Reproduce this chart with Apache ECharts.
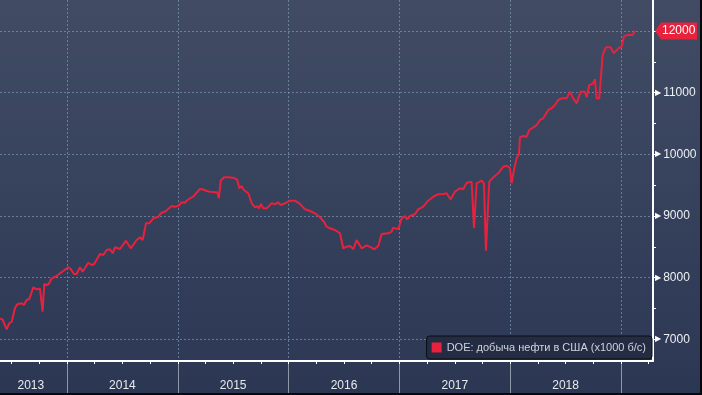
<!DOCTYPE html>
<html><head><meta charset="utf-8">
<script src="https://cdn.jsdelivr.net/npm/echarts@6/dist/echarts.min.js"></script>
<style>
html,body{margin:0;padding:0;background:#000;}
#wrap{position:relative;width:702px;height:395px;}
#chart{width:702px;height:395px;}
#frame{position:absolute;left:0;top:0;width:702px;height:395px;box-sizing:border-box;border-right:2px solid #06080c;border-bottom:2px solid #06080c;pointer-events:none;}
</style>
</head><body><div id="wrap"><div id="chart"></div><div id="frame"></div></div>
<script>
// ---- data ----
const seriesName = 'DOE: добыча нефти в США (x1000 б/с)';
// decimal years
const dates = [
  2013.395, 2013.419, 2013.455, 2013.479, 2013.501, 2013.530, 2013.551, 2013.591, 2013.612, 2013.636,
  2013.659, 2013.696, 2013.726, 2013.756, 2013.768, 2013.780, 2013.795, 2013.816, 2013.835, 2013.862,
  2013.907, 2013.937, 2013.966, 2014.011, 2014.033, 2014.063, 2014.087, 2014.117, 2014.141, 2014.192,
  2014.223, 2014.246, 2014.297, 2014.327, 2014.358, 2014.388, 2014.412, 2014.433, 2014.478, 2014.532,
  2014.575, 2014.629, 2014.659, 2014.683, 2014.713, 2014.742, 2014.779, 2014.824, 2014.854, 2014.884,
  2014.945, 2014.974, 2015.004, 2015.035, 2015.065, 2015.080, 2015.110, 2015.139, 2015.170, 2015.200,
  2015.224, 2015.260, 2015.290, 2015.335, 2015.356, 2015.371, 2015.387, 2015.417, 2015.455, 2015.501,
  2015.537, 2015.555, 2015.576, 2015.597, 2015.636, 2015.667, 2015.697, 2015.717, 2015.733, 2015.751,
  2015.771, 2015.802, 2015.847, 2015.877, 2015.907, 2015.928, 2015.967, 2016.012, 2016.057, 2016.096,
  2016.148, 2016.193, 2016.238, 2016.283, 2016.319, 2016.344, 2016.373, 2016.418, 2016.464, 2016.493,
  2016.524, 2016.554, 2016.584, 2016.614, 2016.659, 2016.704, 2016.749, 2016.773, 2016.809, 2016.840,
  2016.899, 2016.930, 2016.944, 2016.990, 2017.020, 2017.050, 2017.071, 2017.095, 2017.140, 2017.170,
  2017.215, 2017.260, 2017.306, 2017.351, 2017.396, 2017.426, 2017.462, 2017.501, 2017.546, 2017.576,
  2017.607, 2017.652, 2017.673, 2017.697, 2017.742, 2017.763, 2017.781, 2017.811, 2017.847, 2017.892,
  2017.937, 2017.968, 2017.998, 2018.013, 2018.034, 2018.058, 2018.079, 2018.088, 2018.118, 2018.148,
  2018.172, 2018.208, 2018.239, 2018.268, 2018.298, 2018.343, 2018.374, 2018.404, 2018.434, 2018.464,
  2018.510, 2018.539, 2018.569, 2018.600, 2018.636, 2018.675, 2018.690, 2018.714, 2018.744, 2018.765,
  2018.780, 2018.804, 2018.834, 2018.864, 2018.906, 2018.936, 2018.954, 2018.975, 2019.006, 2019.027,
  2019.066, 2019.105, 2019.126
];
const production = [
  7340, 7320, 7160, 7260, 7285, 7503, 7568, 7584, 7556, 7637,
  7649, 7843, 7811, 7821, 7811, 7448, 7897, 7881, 7897, 7989,
  8027, 8070, 8108, 8168, 8140, 8059, 8059, 8168, 8096, 8242,
  8205, 8221, 8383, 8367, 8448, 8460, 8395, 8492, 8464, 8599,
  8476, 8610, 8654, 8610, 8881, 8881, 8962, 8988, 9053, 9069,
  9162, 9150, 9162, 9222, 9215, 9248, 9287, 9313, 9377, 9438,
  9433, 9405, 9394, 9384, 9384, 9287, 9572, 9627, 9627, 9621,
  9584, 9449, 9486, 9421, 9368, 9206, 9141, 9162, 9124, 9194,
  9124, 9124, 9206, 9189, 9222, 9178, 9206, 9248, 9248, 9206,
  9108, 9081, 9043, 8979, 8907, 8826, 8800, 8773, 8719, 8476,
  8502, 8513, 8464, 8610, 8476, 8524, 8486, 8460, 8513, 8708,
  8719, 8745, 8810, 8784, 8962, 9000, 8946, 9000, 9027, 9108,
  9150, 9248, 9313, 9352, 9356, 9368, 9270, 9394, 9449, 9433,
  9540, 9556, 8800, 9530, 9572, 9530, 8437, 9556, 9627, 9692,
  9799, 9815, 9773, 9530, 9746, 9935, 10005, 10276, 10297, 10286,
  10394, 10438, 10476, 10557, 10584, 10719, 10746, 10800, 10881, 10908,
  10908, 11016, 10908, 10827, 11016, 11016, 10925, 11124, 11140, 11217,
  10908, 10908, 11611, 11736, 11736, 11638, 11627, 11719, 11745, 11919,
  11935, 11935, 12005
];
const firstYearLabel = ['2013'];
const yearLabels = ['2014', '2015', '2016', '2017', '2018'];
const yearLineFirst = 2014, yearLineLast = 2019;
const quarterFirst = 2013.5, quarterLast = 2019.25, quarterStep = 0.25;
const yTickMin = 7000, yTickMax = 12000, yTickStep = 1000, yMinorStep = 500;
const highlightValue = 12000;

// ---- layout constants (pixels) ----
const W = 702, H = 395;
const PLOT_RIGHT = 653, AXIS_Y = 361;
const X_YEAR0 = -43.8, YEAR0 = 2013, PX_YEAR = 110.8;
const Y_TOP_TICK = 31, PX_PER_1000 = 61.66;
const xOf = yr => X_YEAR0 + (yr - YEAR0) * PX_YEAR;
const yearAt = px => YEAR0 + (px - X_YEAR0) / PX_YEAR;
const valAt = py => yTickMax - (py - Y_TOP_TICK) / PX_PER_1000 * 1000;

const FONT = "'Liberation Sans', Arial, sans-serif";
const RED = '#e8213d';
const GRID_LINE = { color: 'rgba(135,165,195,0.6)', width: 1, type: [2, 2] };

function makeTag() {
  const c = document.createElement('canvas');
  c.width = 42; c.height = 17;
  const g = c.getContext('2d');
  g.fillStyle = RED;
  g.beginPath();
  g.moveTo(0, 8.5); g.lineTo(6, 0); g.lineTo(42, 0); g.lineTo(42, 17); g.lineTo(6, 17);
  g.closePath(); g.fill();
  return c;
}
const tagCanvas = makeTag();

const plotBottom = H - AXIS_Y;
const grids = [
  { left: 0, right: W - PLOT_RIGHT, top: 0, bottom: plotBottom },                                  // 0 data
  { left: xOf(yearLineFirst), right: W - xOf(yearLineLast), top: 0, bottom: plotBottom },           // 1 year lines
  { left: xOf(quarterFirst), right: W - xOf(quarterLast), top: 0, bottom: plotBottom },             // 2 quarter ticks
  { left: 0, right: W - 61.6, top: 0, bottom: plotBottom },                                         // 3 first label
  { left: xOf(2014), right: W - xOf(2019), top: 0, bottom: plotBottom },                            // 4 year labels
  { left: 0, right: W - PLOT_RIGHT, top: Y_TOP_TICK,
    bottom: H - (Y_TOP_TICK + (yTickMax - yTickMin) / 1000 * PX_PER_1000) }                         // 5 y labels
];

const hidden = { show: false };
const option = {
  animation: false,
  backgroundColor: {
    type: 'linear', x: 0, y: 0, x2: 0, y2: 1,
    colorStops: [
      { offset: 0, color: '#414b64' },
      { offset: 0.88, color: '#2e3a56' },
      { offset: 1, color: '#2a3652' }
    ]
  },
  grid: grids,
  legend: {
    data: [seriesName],
    right: W - 652, bottom: H - 359,
    icon: 'rect', itemWidth: 10, itemHeight: 10,
    backgroundColor: '#232c42', borderColor: '#0a0c11', borderWidth: 1, borderRadius: 3,
    padding: [6, 6, 6, 5],
    textStyle: { color: '#cfd3dc', fontSize: 11, fontFamily: FONT }
  },
  xAxis: [
    { gridIndex: 0, type: 'value', min: yearAt(0), max: yearAt(PLOT_RIGHT),
      axisLine: { show: true, lineStyle: { color: '#ffffff', width: 2 } },
      axisTick: hidden, axisLabel: hidden, splitLine: hidden },
    { gridIndex: 1, type: 'value', min: yearLineFirst, max: yearLineLast, interval: 1,
      axisLine: hidden, axisLabel: hidden,
      axisTick: { show: true, length: H - AXIS_Y, lineStyle: { color: '#8e97a6', width: 1 } },
      splitLine: { show: true, lineStyle: GRID_LINE } },
    { gridIndex: 2, type: 'value', min: quarterFirst, max: quarterLast, interval: quarterStep,
      axisLine: hidden, axisLabel: hidden, splitLine: hidden,
      axisTick: { show: true, length: 3, lineStyle: { color: '#ffffff', width: 1 } } },
    { gridIndex: 3, type: 'category', data: firstYearLabel, boundaryGap: true,
      axisLine: hidden, axisTick: hidden, splitLine: hidden,
      axisLabel: { color: '#e8eaee', fontSize: 12, fontFamily: FONT, margin: 19 } },
    { gridIndex: 4, type: 'category', data: yearLabels, boundaryGap: true,
      axisLine: hidden, axisTick: hidden, splitLine: hidden,
      axisLabel: { color: '#e8eaee', fontSize: 12, fontFamily: FONT, margin: 19, interval: 0 } },
    { gridIndex: 5, type: 'value', show: false, min: 0, max: 1 }
  ],
  yAxis: [
    { gridIndex: 0, type: 'value', position: 'right', min: valAt(AXIS_Y), max: valAt(0),
      axisLine: { show: true, lineStyle: { color: '#ffffff', width: 2 } },
      axisTick: hidden, axisLabel: hidden, splitLine: hidden },
    { gridIndex: 1, type: 'value', show: false },
    { gridIndex: 2, type: 'value', show: false },
    { gridIndex: 3, type: 'value', show: false },
    { gridIndex: 4, type: 'value', show: false },
    { gridIndex: 5, type: 'value', position: 'right', min: yTickMin, max: yTickMax, interval: yTickStep,
      axisLine: hidden, axisTick: hidden,
      splitLine: { show: true, lineStyle: GRID_LINE },
      axisLabel: {
        margin: 2,
        formatter: v => v === highlightValue ? '{tag|' + v + '}' : '{tri|▶}{num|' + v + '}',
        rich: {
          tri: { color: '#ffffff', fontSize: 8, fontFamily: "'DejaVu Sans', sans-serif", lineHeight: 12 },
          num: { color: '#eef0f4', fontSize: 12, fontFamily: FONT, padding: [0, 0, 0, 2], lineHeight: 14 },
          tag: { backgroundColor: { image: tagCanvas }, color: '#ffffff', fontSize: 12, fontFamily: FONT,
                 width: 35, height: 15, lineHeight: 15, padding: [1, 0, 1, 7], align: 'left' }
        }
      } },
    { gridIndex: 5, type: 'value', position: 'right', min: yTickMin, max: yTickMax, interval: yMinorStep,
      axisLine: hidden, axisLabel: hidden, splitLine: hidden,
      axisTick: { show: true, length: 3, lineStyle: { color: '#ffffff', width: 1 } } }
  ],
  series: [{
    name: seriesName, type: 'line', xAxisIndex: 0, yAxisIndex: 0,
    data: dates.map((d, i) => [d, production[i]]),
    showSymbol: false, symbol: 'none',
    lineStyle: { color: RED, width: 2 },
    itemStyle: { color: RED }
  }]
};
const chart = echarts.init(document.getElementById('chart'), null, { renderer: 'canvas' });
chart.setOption(option);
</script>
</body></html>
